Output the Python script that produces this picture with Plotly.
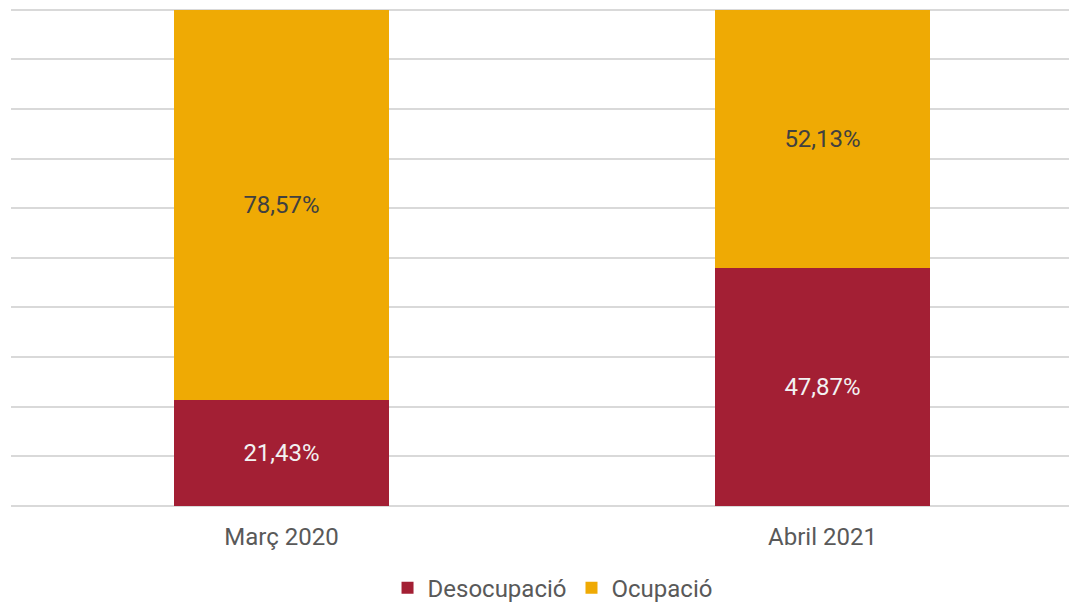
import plotly.graph_objects as go

categories = ["Març 2020", "Abril 2021"]
desocupacio = [21.43, 47.87]
ocupacio = [78.57, 52.13]
labels_des = ["21,43%", "47,87%"]
labels_ocu = ["78,57%", "52,13%"]

xpos = list(range(len(categories)))

fig = go.Figure()
fig.add_trace(go.Bar(
    x=xpos, y=desocupacio, name="Desocupació",
    marker=dict(color="#A31F34", line=dict(width=0)),
    text=labels_des, textposition="inside", insidetextanchor="middle",
    textfont=dict(color="#F2F2F2", size=24, family="Roboto"),
    width=0.397,
))
fig.add_trace(go.Bar(
    x=xpos, y=ocupacio, name="Ocupació",
    marker=dict(color="#EFAA04", line=dict(width=0)),
    text=labels_ocu, textposition="inside", insidetextanchor="middle",
    textfont=dict(color="#404040", size=24, family="Roboto"),
    width=0.397,
))

fig.update_layout(
    barmode="stack",
    width=1077, height=604,
    margin=dict(l=3, r=8, t=0, b=106, autoexpand=False),
    paper_bgcolor="white", plot_bgcolor="white",
    font=dict(family="Roboto", color="#595959", size=24),
    showlegend=True,
    legend=dict(orientation="h", x=0.508, xanchor="center", y=-0.165, yanchor="middle",
                font=dict(size=24, color="#595959"), traceorder="normal",
                itemwidth=30),
    xaxis=dict(range=[-0.5, 1.4704], tickvals=xpos, ticktext=categories,
               showgrid=False, zeroline=False, showline=False, ticks="",
               ticklabelstandoff=14,
               tickfont=dict(size=24, color="#595959")),
    yaxis=dict(range=[0, 100.35], dtick=10, showticklabels=False, showgrid=True,
               gridcolor="#D9D9D9", gridwidth=1.5, zeroline=True,
               zerolinecolor="#D9D9D9", zerolinewidth=1.5, showline=False, ticks=""),
)
fig.write_html("out.html")
